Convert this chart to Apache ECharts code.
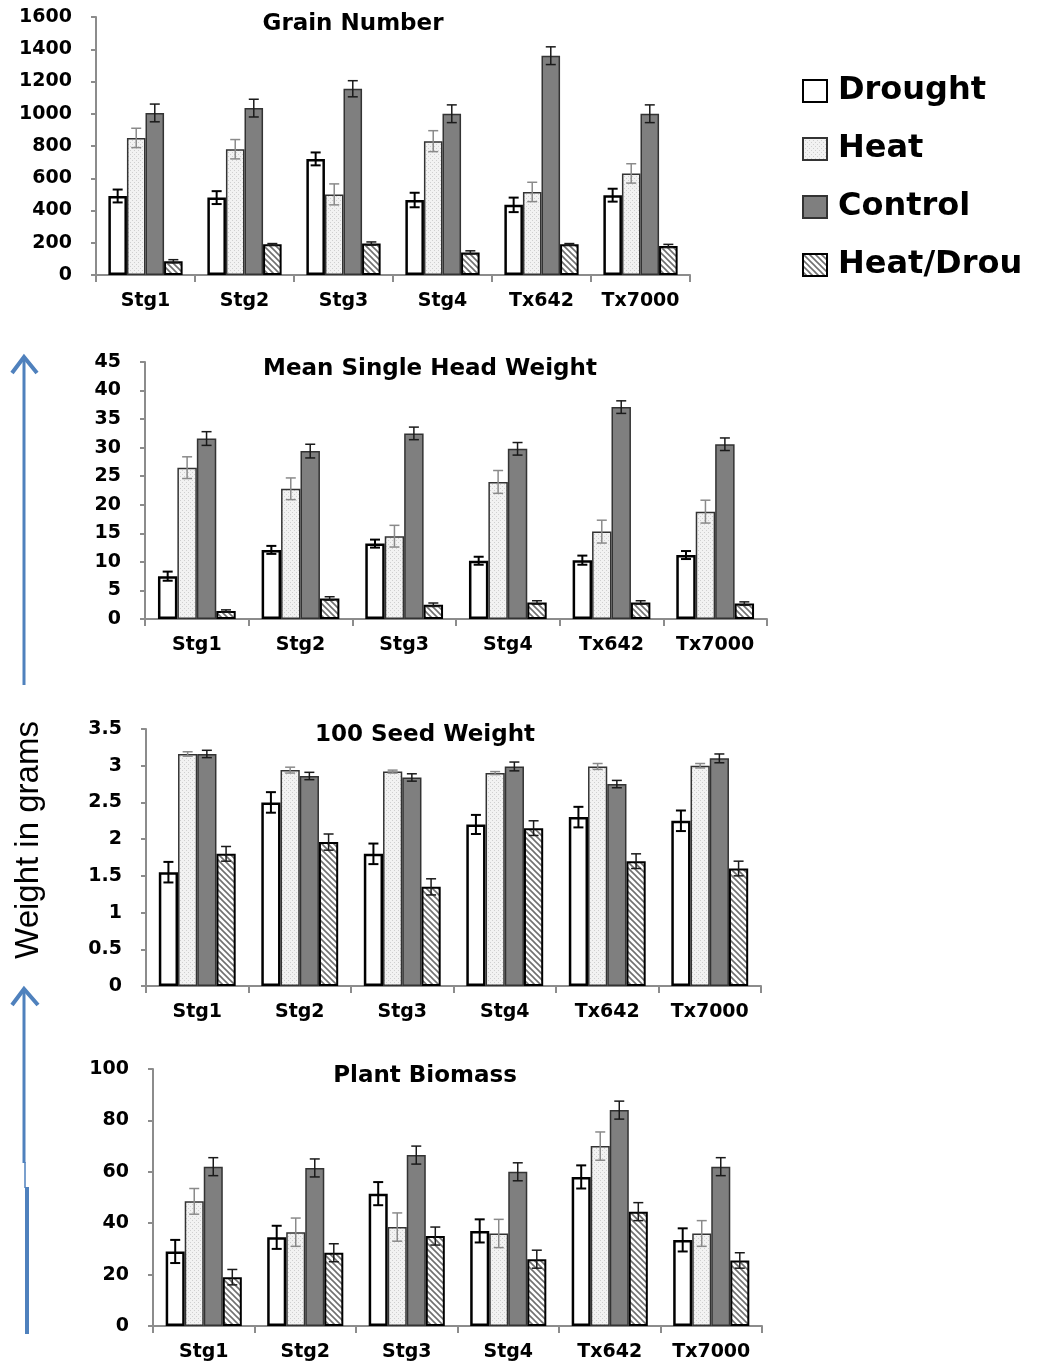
<!DOCTYPE html>
<html><head><meta charset="utf-8">
<script src="https://cdn.jsdelivr.net/npm/echarts/dist/echarts.min.js"></script>
<style>html,body{margin:0;padding:0;background:#fff}#c{width:1042px;height:1364px}</style>
</head><body><div id="c"></div>
<script>
// ---------- DATA ----------
const categories = ['Stg1', 'Stg2', 'Stg3', 'Stg4', 'Tx642', 'Tx7000'];
const seriesNames = ['Drought', 'Heat', 'Control', 'Heat/Drou'];
const chartTitles = ['Grain Number', 'Mean Single Head Weight', '100 Seed Weight', 'Plant Biomass'];
const yAxisMax = [1600, 45, 3.5, 100];
const yAxisStep = [200, 5, 0.5, 20];
const yLabel = 'Weight in grams';

// Grain Number
const grainDrought = [490, 480, 720, 465, 435, 495];
const grainHeat = [850, 780, 500, 830, 515, 630];
const grainControl = [1005, 1035, 1155, 1000, 1360, 1000];
const grainHeatDrought = [85, 190, 195, 140, 190, 180];
const grainDroughtErr = [40, 40, 40, 45, 45, 40];
const grainHeatErr = [60, 60, 65, 65, 60, 60];
const grainControlErr = [55, 55, 50, 55, 55, 55];
const grainHeatDroughtErr = [10, 5, 10, 10, 5, 10];

// Mean Single Head Weight
const headDrought = [7.5, 12.1, 13.2, 10.2, 10.3, 11.2];
const headHeat = [26.5, 22.8, 14.5, 24.0, 15.3, 18.8];
const headControl = [31.6, 29.4, 32.5, 29.8, 37.1, 30.6];
const headHeatDrought = [1.4, 3.6, 2.5, 2.9, 2.9, 2.7];
const headDroughtErr = [0.8, 0.7, 0.7, 0.7, 0.8, 0.7];
const headHeatErr = [1.9, 1.9, 1.9, 2.0, 2.0, 2.0];
const headControlErr = [1.2, 1.2, 1.1, 1.1, 1.1, 1.1];
const headHeatDroughtErr = [0.2, 0.3, 0.3, 0.3, 0.3, 0.3];

// 100 Seed Weight
const seedDrought = [1.55, 2.5, 1.8, 2.2, 2.3, 2.25];
const seedHeat = [3.16, 2.94, 2.92, 2.9, 2.99, 3.0];
const seedControl = [3.16, 2.86, 2.84, 2.99, 2.75, 3.1];
const seedHeatDrought = [1.8, 1.96, 1.35, 2.15, 1.7, 1.6];
const seedDroughtErr = [0.14, 0.14, 0.14, 0.13, 0.14, 0.14];
const seedHeatErr = [0.03, 0.04, 0.02, 0.02, 0.04, 0.03];
const seedControlErr = [0.05, 0.05, 0.05, 0.06, 0.05, 0.06];
const seedHeatDroughtErr = [0.1, 0.11, 0.11, 0.1, 0.1, 0.1];

// Plant Biomass
const biomassDrought = [29, 34.5, 51.5, 37, 58, 33.5];
const biomassHeat = [48.5, 36.5, 38.5, 36, 70, 36];
const biomassControl = [62, 61.5, 66.5, 60, 84, 62];
const biomassHeatDrought = [19, 28.5, 35, 26, 44.5, 25.5];
const biomassDroughtErr = [4.5, 4.5, 4.5, 4.5, 4.5, 4.5];
const biomassHeatErr = [5, 5.5, 5.5, 5.5, 5.5, 5];
const biomassControlErr = [3.5, 3.5, 3.5, 3.5, 3.5, 3.5];
const biomassHeatDroughtErr = [3, 3.5, 3.5, 3.5, 3.5, 3];

const chartValues = [
  [grainDrought, grainHeat, grainControl, grainHeatDrought],
  [headDrought, headHeat, headControl, headHeatDrought],
  [seedDrought, seedHeat, seedControl, seedHeatDrought],
  [biomassDrought, biomassHeat, biomassControl, biomassHeatDrought]
];
const chartErrors = [
  [grainDroughtErr, grainHeatErr, grainControlErr, grainHeatDroughtErr],
  [headDroughtErr, headHeatErr, headControlErr, headHeatDroughtErr],
  [seedDroughtErr, seedHeatErr, seedControlErr, seedHeatDroughtErr],
  [biomassDroughtErr, biomassHeatErr, biomassControlErr, biomassHeatDroughtErr]
];

// ---------- STYLE / LAYOUT ----------
function makeDots() {
  const c = document.createElement('canvas'); c.width = 4; c.height = 4;
  const g = c.getContext('2d');
  g.fillStyle = '#f2f2f2'; g.fillRect(0, 0, 4, 4);
  g.fillStyle = '#cfcfcf'; g.fillRect(0, 0, 1, 1); g.fillRect(2, 2, 1, 1);
  return c;
}
function makeHatch() {
  const s = 6;
  const c = document.createElement('canvas'); c.width = s; c.height = s;
  const g = c.getContext('2d');
  g.fillStyle = '#ffffff'; g.fillRect(0, 0, s, s);
  g.strokeStyle = '#707070'; g.lineWidth = 1.6;
  g.beginPath();
  g.moveTo(-1, -1); g.lineTo(s + 1, s + 1);
  g.moveTo(-1, s - 1); g.lineTo(1, s + 1);
  g.moveTo(s - 1, -1); g.lineTo(s + 1, 1);
  g.stroke();
  return c;
}
const barStyles = [
  { color: '#ffffff', borderColor: '#000000', borderWidth: 2.5 },
  { color: { image: makeDots(), repeat: 'repeat' }, borderColor: '#333333', borderWidth: 1.5 },
  { color: '#7f7f7f', borderColor: '#333333', borderWidth: 1.5 },
  { color: { image: makeHatch(), repeat: 'repeat' }, borderColor: '#000000', borderWidth: 2 }
];
const errStyles = [
  { stroke: '#000000', lineWidth: 2 },
  { stroke: '#8a8a8a', lineWidth: 1.5 },
  { stroke: '#1a1a1a', lineWidth: 1.5 },
  { stroke: '#1a1a1a', lineWidth: 1.5 }
];
const grids = [
  { left: 96, right: 352, top: 17, height: 258 },
  { left: 145, right: 275, top: 362, height: 257 },
  { left: 146, right: 281, top: 729, height: 257 },
  { left: 153, right: 280, top: 1069, height: 257 }
];
const titlePos = [[353, 24], [430, 369], [425, 735], [425, 1076]];
const FONT = 'DejaVu Sans';
const axisGray = '#8c8c8c';
const CAT_GAP = 0.25;

const xAxes = [], yAxes = [], series = [];
grids.forEach((g, ci) => {
  xAxes.push({
    type: 'category', gridIndex: ci, data: categories,
    axisLine: { lineStyle: { color: axisGray, width: 2 } },
    axisTick: { show: true, length: 7, lineStyle: { color: axisGray, width: 2 } },
    axisLabel: { margin: 17, color: '#000', fontFamily: FONT, fontWeight: 'bold', fontSize: 19, interval: 0 }
  });
  yAxes.push({
    type: 'value', gridIndex: ci, min: 0, max: yAxisMax[ci], interval: yAxisStep[ci],
    splitLine: { show: false },
    axisLine: { show: true, lineStyle: { color: axisGray, width: 2 } },
    axisTick: { show: true, length: 5, lineStyle: { color: axisGray, width: 2 } },
    axisLabel: { margin: 24, color: '#000', fontFamily: FONT, fontWeight: 'bold', fontSize: 19,
      formatter: function (v) { return String(Math.round(v * 100) / 100); } }
  });
  seriesNames.forEach((name, k) => {
    series.push({
      name: name, type: 'bar', xAxisIndex: ci, yAxisIndex: ci,
      data: chartValues[ci][k], barGap: '0%', barCategoryGap: (CAT_GAP * 100) + '%',
      itemStyle: barStyles[k], emphasis: { disabled: true }, z: 2
    });
  });
  seriesNames.forEach((name, k) => {
    const vals = chartValues[ci][k], errs = chartErrors[ci][k];
    series.push({
      type: 'custom', xAxisIndex: ci, yAxisIndex: ci, z: 5, silent: true,
      data: vals.map((v, i) => [i, v, errs[i]]),
      encode: { x: 0, y: 1 },
      renderItem: function (params, api) {
        const idx = api.value(0), v = api.value(1), e = api.value(2);
        const band = api.size([1, 0])[0];
        const bw = band * (1 - CAT_GAP) / 4;
        const c = api.coord([idx, v]);
        const x = c[0] + (k - 1.5) * bw;
        const yt = api.coord([idx, v + e])[1];
        const yb = api.coord([idx, Math.max(0, v - e)])[1];
        const cw = 5;
        const st = errStyles[k];
        return {
          type: 'group', children: [
            { type: 'line', shape: { x1: x, y1: yt, x2: x, y2: yb }, style: st },
            { type: 'line', shape: { x1: x - cw, y1: yt, x2: x + cw, y2: yt }, style: st },
            { type: 'line', shape: { x1: x - cw, y1: yb, x2: x + cw, y2: yb }, style: st }
          ]
        };
      }
    });
  });
});

const arrowColor = '#4f81bd';
const graphic = chartTitles.map((t, i) => ({
  type: 'text', x: titlePos[i][0], y: titlePos[i][1], z: 10,
  style: { text: t, fill: '#000', fontFamily: FONT, fontWeight: 'bold', fontSize: 23, align: 'center', verticalAlign: 'middle' }
}));
graphic.push(
  { type: 'text', x: 29, y: 840, rotation: Math.PI / 2,
    style: { text: yLabel, fill: '#000', fontFamily: 'Liberation Sans', fontSize: 33, align: 'center', verticalAlign: 'middle' } },
  { type: 'line', shape: { x1: 24, y1: 685, x2: 24, y2: 358 }, style: { stroke: arrowColor, lineWidth: 3 } },
  { type: 'polyline', shape: { points: [[12, 373], [24, 357], [37, 373]] }, style: { stroke: arrowColor, lineWidth: 4, fill: null } },
  { type: 'line', shape: { x1: 24, y1: 1163, x2: 24, y2: 990 }, style: { stroke: arrowColor, lineWidth: 3 } },
  { type: 'line', shape: { x1: 25, y1: 1188, x2: 25, y2: 1162 }, style: { stroke: arrowColor, lineWidth: 1.5 } },
  { type: 'line', shape: { x1: 27, y1: 1334, x2: 27, y2: 1187 }, style: { stroke: arrowColor, lineWidth: 4 } },
  { type: 'polyline', shape: { points: [[12, 1005], [24, 989], [38, 1005]] }, style: { stroke: arrowColor, lineWidth: 4, fill: null } }
);

const chart = echarts.init(document.getElementById('c'), null, { renderer: 'canvas' });
chart.setOption({
  animation: false,
  backgroundColor: '#ffffff',
  grid: grids,
  xAxis: xAxes,
  yAxis: yAxes,
  series: series,
  legend: {
    orient: 'vertical', left: 797, top: 70, itemWidth: 24, itemHeight: 22, itemGap: 26,
    data: seriesNames, selectedMode: false, icon: 'rect',
    textStyle: { fontFamily: FONT, fontWeight: 'bold', fontSize: 32, color: '#000', padding: [0, 0, 0, 6] }
  },
  graphic: graphic
});
</script>
</body></html>
